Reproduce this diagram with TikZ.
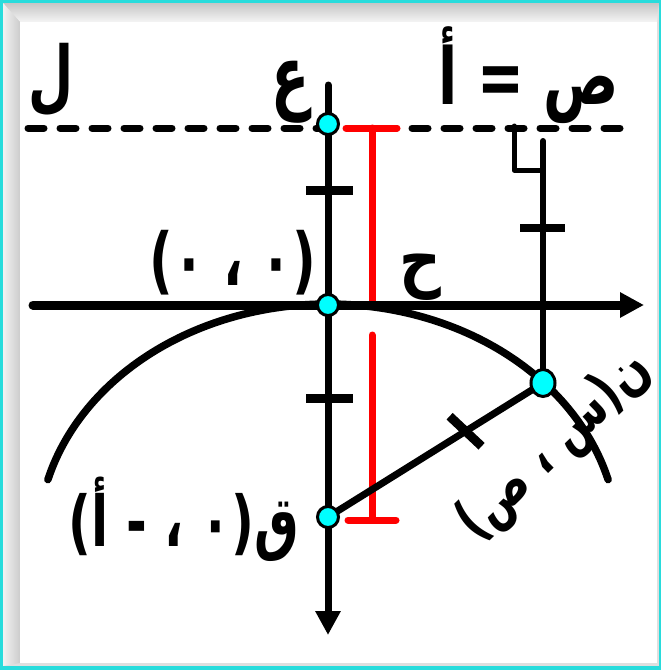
\documentclass[tikz,border=0pt]{standalone}
\usepackage{fontspec}
\newfontfamily\ar[Script=Arabic]{DejaVu Sans}
\TeXXeTstate=1
\usetikzlibrary{arrows.meta,calc,shapes.geometric}
\definecolor{framecyan}{RGB}{40,220,220}
\definecolor{ptcyan}{RGB}{0,255,255}
\definecolor{rd}{RGB}{255,0,0}
\newcommand\arl[2][1.4]{\scalebox{1}[#1]{\beginR #2\endR}}
\begin{document}
\begin{tikzpicture}[x=1pt,y=-1pt,
  lab/.style={font=\ar\bfseries\fontsize{#1}{60}\selectfont, inner sep=0pt},
  lab/.default=52,
  dotnode/.style={circle, fill=ptcyan, draw=black, line width=3pt, minimum size=21pt, inner sep=0pt},
  redl/.style={rd, line width=7pt, line cap=round},
  tickm/.style={line width=9pt},
  blk/.style={line width=7pt, line cap=round},
  arr/.style={-{Triangle[length=24pt,width=24pt]}},
  ]
\useasboundingbox (0,0) rectangle (661,670);
% frame
\fill[framecyan] (0,0) rectangle (661,670);
\fill[gray!25] (3,3) rectangle (659,666);
\shade[top color=gray!45, bottom color=gray!8] (3,3) -- (659,3) -- (657,22) -- (20,22) -- cycle;
\shade[left color=gray!10, right color=gray!40] (3,3) -- (20,22) -- (20,663) -- (3,666) -- cycle;
\fill[white] (20,22) rectangle (657,663);
% key coordinates
\coordinate (O) at (328,305);
\coordinate (V) at (328,124);
\coordinate (F) at (328,517);
\coordinate (P) at (543,383);
\coordinate (ytop) at (328,85);
\coordinate (ybot) at (328,635);
\coordinate (xl) at (33,305);
\coordinate (xr) at (644,305);
\coordinate (d1) at (28,128);
\coordinate (d2) at (622,128);
\coordinate (pt) at (543,141);
% directrix
\draw[line width=7pt, line cap=round, dash pattern=on 16pt off 16pt] (d1) -- (d2);
% red distances
\coordinate (r1) at (372,128);
\coordinate (r2) at (372,305);
\coordinate (r3) at (372,335);
\coordinate (r4) at (372,520);
\draw[redl] (r1) -- (r2);
\draw[redl] (346,128) -- (397,128);
\draw[redl] (r3) -- (r4);
\draw[redl] (348,520) -- (396,520);
% axes
\draw[line width=9pt, line cap=round, arr] (xl) -- (xr);
\draw[line width=7pt, line cap=round, arr] (ytop) -- (ybot);
% ticks on axis
\draw[tickm] (306,190) -- (353,190);
\draw[tickm] (306,398) -- (353,398);
% parabola
\draw[line width=7.5pt, line cap=round] plot[domain=165:15, samples=120] ({328+290*cos(\x)}, {541-237*sin(\x)});
% P to focus with tick
\draw[blk] (P) -- (F);
\draw[tickm] ($(P)!0.36!(F)+(-16,-15)$) -- ($(P)!0.36!(F)+(16,15)$);
% P up to directrix
\draw[line width=6pt, line cap=round] (P) -- (pt);
\draw[line width=8pt] (520,228) -- (565,228);
\draw[line width=5pt, line cap=round, line join=round] (514,126) -- (514,170) -- (543,170);
% points
\node[dotnode] (Odot) at (O) {};
\node[dotnode] (Vdot) at (V) {};
\node[dotnode] (Fdot) at (F) {};
\node[dotnode, ellipse, minimum width=24pt, minimum height=27pt] (Pdot) at (P) {};
% labels
\node[lab=52] (lL) at (51,80) {\arl[1.5]{ل}};
\node[lab=56] (lE) at (291,92) {\arl[1.45]{ع}};
\node[lab=56] (lY) at (529,75) {\arl{ص = أ}};
\node[lab=52] (lO) at (233,263) {\arl{(٠ ، ٠)}};
\node[lab=50] (lF) at (184,519) {\arl{ق(٠ ، - أ)}};
\node[lab=58] (lH) at (420,277) {\arl[1.2]{ح}};
\node[lab=44, rotate=44] (lP) at (555,447) {\arl[1.3]{ن(س ، ص)}};
\end{tikzpicture}
\end{document}
